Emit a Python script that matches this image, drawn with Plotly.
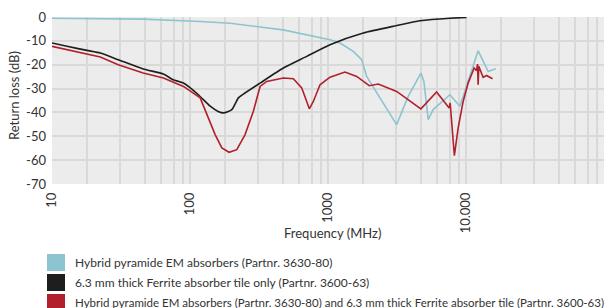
import plotly.graph_objects as go

# ---- data ----
series_names = [
    "Hybrid pyramide EM absorbers (Partnr. 3630-80)",
    "6.3 mm thick Ferrite absorber tile only (Partnr. 3600-63)",
    "Hybrid pyramide EM absorbers (Partnr. 3630-80) and 6.3 mm thick Ferrite absorber tile (Partnr. 3600-63)",
]
series_colors = ["#8cc5cf", "#1e1e1e", "#b21f2d"]

pyramid_freq = [10, 22.4, 45.8, 118.5, 195.3, 472.5, 1034, 1221, 1525, 1753, 1831, 1906,
                3143, 3813, 4712, 4953, 5321, 5783, 7640, 9028, 12240, 14465, 16447]
pyramid_db = [-0.5, -0.55, -0.9, -1.9, -2.6, -5.4, -9.5, -10.9, -14.4, -17.9, -22.1, -24.9,
              -45.1, -33.3, -23.5, -27.0, -43.0, -38.8, -32.6, -37.4, -14.1, -22.8, -21.7]

ferrite_freq = [10, 12.84, 17.9, 22.4, 30.2, 45.8, 64.2, 75.5, 89.7, 115, 140, 160, 174.7,
                200.9, 224.2, 243.8, 322, 474.8, 701, 1034, 1801, 3143, 4634, 7640, 10090]
ferrite_db = [-10.9, -12.3, -14.0, -15.1, -17.9, -21.8, -23.9, -26.3, -27.7, -32.6, -37.4, -39.6, -40.2,
              -38.8, -33.9, -32.3, -27.7, -21.4, -16.5, -11.6, -6.7, -3.6, -1.6, -0.5, -0.2]

combo_freq = [10, 17.9, 22.4, 30.2, 45.8, 64.2, 89.7, 118.5, 132.4, 152.1, 170.1, 192.0, 218.3,
              250.7, 287.9, 322, 359.9, 474.8, 560.9, 645, 701, 732, 782.9, 875, 1034, 1328,
              1614, 1991, 2313, 3143, 4712, 6121, 7551, 7677, 7768, 8236, 8774, 9537, 10366,
              11455, 11925, 12124, 12240, 12384, 13309, 14083, 15568]
combo_db = [-12.3, -15.5, -16.8, -20.0, -23.5, -25.6, -29.1, -33.9, -40.9, -49.3, -54.9, -56.7, -55.6,
            -49.3, -39.5, -29.1, -27.0, -25.6, -25.9, -29.7, -35.4, -38.5, -35.4, -28.4, -25.2, -23.1,
            -24.9, -28.8, -28.1, -31.2, -38.5, -31.4, -38.1, -36.0, -39.7, -58.1, -46.5, -35.4, -27.7,
            -21.4, -22.5, -19.7, -28.4, -20.7, -25.3, -24.5, -25.9]

x_tickvals = [10, 100, 1000, 10000, 100000]
x_ticktext = ["10", "100", "1000", "10.000", "100.000"]
x_minor_mult = [1.8, 3.1, 4.7, 6.2, 7.6, 8.9]
y_tickvals = [0, -10, -20, -30, -40, -50, -60, -70]
y_ticktext = ["0", "-10", "-20", "-30", "-40", "-50", "-60", "-70"]

FONT = "Lato"
TXT = "#333333"
GRID = "#d9d9d9"

W, H = 611, 308
ML, MR, MT, MB = 52, 7, 17, 124
pw = W - ML - MR
ph = H - MT - MB


def px_x(x):
    return (x - ML) / pw


def px_y(y):
    return (H - MB - y) / ph


fig = go.Figure()
for fx, fy, col, shp in [(pyramid_freq, pyramid_db, series_colors[0], "linear"),
                         (ferrite_freq, ferrite_db, series_colors[1], "spline"),
                         (combo_freq, combo_db, series_colors[2], "linear")]:
    fig.add_trace(go.Scatter(x=fx, y=fy, mode="lines",
                             line=dict(color=col, width=1.6, shape=shp, smoothing=0.6),
                             showlegend=False, hoverinfo="skip"))

minor_vals = [m * 10 ** k for k in range(1, 5) for m in x_minor_mult]

fig.update_layout(
    width=W, height=H,
    margin=dict(l=ML, r=MR, t=MT, b=MB),
    paper_bgcolor="white", plot_bgcolor="#ececec",
    font=dict(family=FONT, size=13, color=TXT),
    xaxis=dict(type="log", range=[1, 5], tickvals=x_tickvals, ticktext=x_ticktext,
               tickangle=-90, showgrid=True, gridcolor=GRID, gridwidth=1.5,
               zeroline=False, showline=False, ticks="", ticklabelstandoff=5,
               tickfont=dict(size=13, color=TXT), automargin=False,
               minor=dict(tickvals=minor_vals, showgrid=True, gridcolor=GRID, gridwidth=1.5, ticks="")),
    yaxis=dict(range=[-70, 0], tickvals=y_tickvals, ticktext=y_ticktext,
               showgrid=True, gridcolor=GRID, gridwidth=1.5,
               zeroline=False, showline=False, ticks="", ticklabelstandoff=5,
               tickfont=dict(size=13, color=TXT), automargin=False),
)

# axis titles (placed as in the reference)
fig.add_annotation(text="Frequency (MHz)", xref="paper", yref="paper",
                   x=px_x(332), y=px_y(233), showarrow=False, xanchor="center", yanchor="middle",
                   font=dict(size=13, color=TXT))
fig.add_annotation(text="Return loss (dB)", xref="paper", yref="paper", textangle=-90,
                   x=px_x(14), y=px_y(96), showarrow=False, xanchor="center", yanchor="middle",
                   font=dict(size=13, color=TXT))

# custom legend with square swatches
row_y = [262.5, 282.5, 302.5]
row_size = [12, 12, 11.5]
for name, col, ry, fs in zip(series_names, series_colors, row_y, row_size):
    fig.add_shape(type="rect", xref="paper", yref="paper",
                  x0=px_x(47), x1=px_x(65), y0=px_y(ry + 8.5), y1=px_y(ry - 8.5),
                  fillcolor=col, line=dict(width=0))
    fig.add_annotation(text=name, xref="paper", yref="paper",
                       x=px_x(73), y=px_y(ry), showarrow=False,
                       xanchor="left", yanchor="middle", font=dict(size=fs, color=TXT))

fig.write_html("out.html", config={"displayModeBar": False},
               post_script="document.body.style.margin='0';document.body.style.overflow='hidden';")
